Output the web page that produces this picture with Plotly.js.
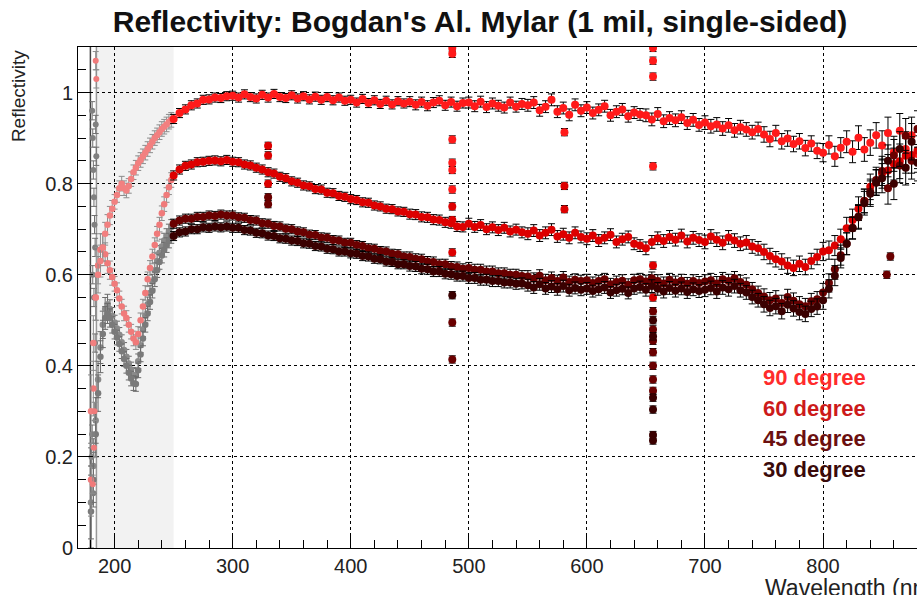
<!DOCTYPE html>
<html><head><meta charset="utf-8">
<script src="https://cdn.plot.ly/plotly-3.0.1.min.js"></script>
<style>html,body{margin:0;padding:0;overflow:hidden;background:#fff}#chart{width:960px;height:595px}</style>
</head><body><div id="chart"></div><script>
// ---- main wavelength grid (nm) ----
const wl = [250,255,260,265,270,275,280,285,290,295,
300,305,310,315,320,325,330,335,340,345,
350,355,360,365,370,375,380,385,390,395,
400,405,410,415,420,425,430,435,440,445,
450,455,460,465,470,475,480,485,490,495,
500,505,510,515,520,525,530,535,540,545,
550,555,560,565,570,575,580,585,590,595,
600,605,610,615,620,625,630,635,640,645,
650,655,660,665,670,675,680,685,690,695,
700,705,710,715,720,725,730,735,740,745,
750,755,760,765,770,775,780,785,790,795,
800,805,810,815,820,825,830,835,840,845,
850,855,860,865,870,875,880,885,890,895];
const r90 = [0.942,0.955,0.963,0.972,0.976,0.984,0.985,0.989,0.988,0.992,
0.993,0.989,0.996,0.990,0.987,0.995,0.989,0.997,0.990,0.988,
0.994,0.987,0.992,0.985,0.991,0.984,0.990,0.983,0.989,0.982,
0.984,0.978,0.986,0.977,0.983,0.975,0.982,0.974,0.981,0.976,
0.980,0.973,0.979,0.971,0.978,0.982,0.972,0.979,0.970,0.977,
0.978,0.970,0.980,0.968,0.976,0.971,0.967,0.978,0.969,0.975,
0.972,0.978,0.961,0.969,0.984,0.958,0.966,0.951,0.973,0.960,
0.967,0.955,0.962,0.970,0.950,0.958,0.963,0.948,0.956,0.952,
0.950,0.941,0.953,0.937,0.944,0.939,0.946,0.933,0.940,0.929,
0.934,0.926,0.930,0.921,0.928,0.917,0.924,0.919,0.913,0.920,
0.908,0.898,0.911,0.893,0.899,0.887,0.893,0.878,0.888,0.872,
0.868,0.885,0.860,0.879,0.892,0.870,0.901,0.875,0.890,0.906,
0.884,0.911,0.869,0.916,0.876,0.906,0.865,0.910,0.881,0.900];
const r60 = [0.818,0.831,0.839,0.842,0.847,0.848,0.850,0.851,0.849,0.852,
0.848,0.847,0.842,0.840,0.835,0.831,0.825,0.822,0.815,0.812,
0.805,0.802,0.796,0.794,0.788,0.787,0.780,0.779,0.773,0.771,
0.766,0.764,0.759,0.758,0.752,0.750,0.745,0.744,0.739,0.738,
0.733,0.732,0.727,0.726,0.721,0.720,0.715,0.713,0.706,0.705,
0.712,0.705,0.709,0.700,0.704,0.698,0.703,0.695,0.699,0.693,
0.690,0.697,0.686,0.692,0.699,0.684,0.689,0.681,0.692,0.683,
0.679,0.686,0.675,0.681,0.688,0.672,0.678,0.683,0.668,0.664,
0.658,0.672,0.680,0.674,0.683,0.677,0.686,0.673,0.681,0.676,
0.672,0.684,0.677,0.670,0.682,0.675,0.668,0.671,0.662,0.658,
0.650,0.641,0.634,0.629,0.620,0.615,0.624,0.617,0.630,0.639,
0.651,0.654,0.664,0.678,0.702,0.720,0.745,0.762,0.793,0.803,
0.822,0.829,0.843,0.849,0.861,0.863,0.873,0.872,0.883,0.875];
const r45 = [0.712,0.719,0.723,0.723,0.727,0.727,0.730,0.729,0.732,0.730,
0.730,0.726,0.725,0.720,0.719,0.713,0.712,0.707,0.706,0.701,
0.700,0.695,0.693,0.688,0.687,0.682,0.681,0.676,0.675,0.670,
0.670,0.665,0.663,0.658,0.657,0.652,0.651,0.646,0.645,0.640,
0.639,0.635,0.634,0.629,0.628,0.623,0.623,0.618,0.617,0.613,
0.615,0.611,0.611,0.607,0.607,0.603,0.603,0.600,0.600,0.597,
0.596,0.591,0.598,0.588,0.593,0.586,0.594,0.584,0.589,0.586,
0.588,0.582,0.586,0.590,0.579,0.584,0.587,0.578,0.588,0.590,
0.585,0.592,0.586,0.581,0.589,0.583,0.587,0.580,0.586,0.582,
0.585,0.588,0.581,0.590,0.586,0.592,0.584,0.578,0.568,0.560,
0.552,0.544,0.548,0.538,0.551,0.543,0.535,0.531,0.542,0.546,
0.561,0.582,0.612,0.643,0.668,0.703,0.728,0.762,0.782,0.808,
0.828,0.790,0.862,0.840,0.905,0.850,0.920,0.870,0.830,0.895];
const r30 = [0.685,0.693,0.695,0.700,0.700,0.704,0.703,0.706,0.704,0.706,
0.703,0.703,0.698,0.697,0.692,0.691,0.686,0.685,0.680,0.679,
0.675,0.674,0.669,0.668,0.663,0.662,0.657,0.656,0.651,0.651,
0.647,0.646,0.641,0.640,0.635,0.634,0.629,0.628,0.623,0.623,
0.619,0.618,0.613,0.612,0.607,0.607,0.602,0.601,0.597,0.597,
0.593,0.593,0.589,0.589,0.586,0.586,0.583,0.583,0.580,0.581,
0.577,0.572,0.579,0.570,0.574,0.568,0.575,0.566,0.571,0.567,
0.570,0.564,0.568,0.572,0.561,0.566,0.569,0.560,0.570,0.573,
0.567,0.575,0.569,0.563,0.571,0.565,0.570,0.562,0.568,0.564,
0.567,0.571,0.563,0.572,0.568,0.575,0.566,0.561,0.551,0.544,
0.535,0.527,0.531,0.520,0.534,0.526,0.518,0.514,0.525,0.530,
0.544,0.569,0.598,0.637,0.668,0.702,0.726,0.757,0.778,0.802,
0.812,0.850,0.800,0.876,0.835,0.892,0.846,0.915,0.858,0.885];
const errs = [0.010,0.010,0.010,0.010,0.010,0.010,0.010,0.010,0.010,0.010,
0.010,0.010,0.010,0.010,0.010,0.010,0.010,0.010,0.010,0.010,
0.010,0.010,0.010,0.010,0.010,0.010,0.010,0.010,0.010,0.010,
0.010,0.010,0.010,0.010,0.010,0.010,0.010,0.010,0.010,0.010,
0.011,0.011,0.011,0.011,0.011,0.011,0.011,0.011,0.011,0.011,
0.012,0.012,0.012,0.012,0.012,0.012,0.012,0.012,0.012,0.012,
0.013,0.013,0.013,0.013,0.013,0.013,0.013,0.013,0.013,0.013,
0.013,0.013,0.013,0.013,0.013,0.013,0.013,0.013,0.013,0.013,
0.014,0.014,0.014,0.014,0.014,0.014,0.014,0.014,0.014,0.014,
0.015,0.015,0.015,0.015,0.015,0.015,0.015,0.015,0.015,0.015,
0.017,0.017,0.017,0.017,0.017,0.017,0.017,0.017,0.017,0.017,
0.020,0.020,0.022,0.022,0.024,0.024,0.026,0.026,0.028,0.028,
0.032,0.035,0.035,0.038,0.038,0.040,0.040,0.042,0.042,0.045];
// ---- spectral-line outliers (D2 lamp lines) ----
const out90Wl  = [486,486,486,486,486,486,656,656,656,656,581];
const out90Val = [1.098,1.085,0.897,0.846,0.830,0.787,1.098,1.070,1.035,0.838,0.913];
const out60Wl  = [330,330,330,486,486,486,656,656,656,581,581];
const out60Val = [0.883,0.862,0.800,0.750,0.720,0.649,0.620,0.585,0.550,0.795,0.744];
const out45Wl  = [330,330,486,486,656,656,656,656,656,656,656,854,857];
const out45Val = [0.770,0.755,0.495,0.414,0.520,0.480,0.455,0.430,0.400,0.370,0.345,0.600,0.640];
const out30Wl  = [486,656,656,656,656,656,656];
const out30Val = [0.555,0.500,0.465,0.330,0.304,0.248,0.236];
// ---- deep-UV region (other lamp) ----
const uvWl = [180,182,184,186,188,190,192,194,196,198,200,202,204,206,208,210,212,214,216,218,220,222,224,226,228,230,232,234,236,238,240,242,244,246,248];
const u90 = [0.30,0.45,0.55,0.60,0.63,0.66,0.69,0.71,0.73,0.745,0.76,0.775,0.79,0.80,0.79,0.785,0.795,0.81,0.825,0.835,0.845,0.852,0.86,0.868,0.876,0.884,0.892,0.90,0.906,0.913,0.92,0.925,0.93,0.936,0.94];
const u60 = [0.15,0.35,0.55,0.62,0.655,0.66,0.645,0.625,0.61,0.595,0.58,0.566,0.548,0.53,0.515,0.505,0.49,0.475,0.46,0.452,0.47,0.50,0.53,0.56,0.59,0.615,0.64,0.665,0.69,0.71,0.735,0.755,0.775,0.792,0.808];
const u45 = [0.10,0.18,0.28,0.37,0.44,0.49,0.525,0.535,0.525,0.51,0.495,0.482,0.468,0.452,0.435,0.42,0.405,0.392,0.38,0.378,0.41,0.445,0.48,0.51,0.535,0.56,0.585,0.61,0.63,0.648,0.662,0.675,0.685,0.695,0.705];
const u30 = [0.08,0.15,0.25,0.34,0.42,0.47,0.505,0.515,0.505,0.49,0.475,0.462,0.448,0.432,0.415,0.40,0.385,0.372,0.362,0.36,0.39,0.425,0.46,0.49,0.515,0.54,0.565,0.59,0.61,0.628,0.642,0.655,0.665,0.675,0.685];
const uvErr = [0.08,0.06,0.05,0.04,0.035,0.03,0.025,0.022,0.02,0.018,0.016,0.016,0.016,0.016,0.016,0.016,0.016,0.016,0.016,0.016,0.016,0.016,0.016,0.016,0.016,0.016,0.016,0.016,0.016,0.016,0.016,0.016,0.016,0.016,0.016];
const uvNoiseWl  = [181.0,181.5,182.0,182.5,183.0,183.5,184.0,184.5,181.5,182.5,183.5,180.5,181.0,182.0];
const uvNoiseVal = [0.96,0.90,0.83,0.77,0.71,0.66,0.93,0.86,0.60,0.55,0.45,0.20,0.25,0.12];
const uvPinkWl  = [184.0,184.5,183.0,182.5,181.5];
const uvPinkVal = [1.07,1.03,0.30,0.22,0.14];
const edgeWl  = [179.5,184.6];
const edgeVal = [0.55,0.55];
const edgeErr = [0.7,0.7];
const labels = ['90 degree','60 degree','45 degree','30 degree'];

const FONT = 'Liberation Sans, Arial, Helvetica, sans-serif';
const traces = [];
// edge lines
traces.push({x:[edgeWl[0]], y:[edgeVal[0]], type:'scatter', mode:'markers', marker:{size:1,color:'#444'},
  error_y:{type:'data', array:[edgeErr[0]], color:'#444', thickness:1.5, width:0}, hoverinfo:'skip'});
traces.push({x:[edgeWl[1]], y:[edgeVal[1]], type:'scatter', mode:'markers', marker:{size:1,color:'#999'},
  error_y:{type:'data', array:[edgeErr[1]], color:'#999', thickness:1.5, width:0}, hoverinfo:'skip'});
// UV gray (45, 30) and noise
[[u45,'#8a8a8a'],[u30,'#7a7a7a']].forEach(([v,c])=>{
  traces.push({x:uvWl, y:v, type:'scatter', mode:'markers', marker:{size:6.5,color:c},
    error_y:{type:'data', array:uvErr, color:'#6a6a6a', thickness:1, width:3}});
});
traces.push({x:uvNoiseWl, y:uvNoiseVal, type:'scatter', mode:'markers', marker:{size:6,color:'#808080'},
  error_y:{type:'data', array:uvNoiseWl.map(()=>0.02), color:'#6f6f6f', thickness:1, width:3}});
// UV pink (60, 90)
[[u60,'#f07a7a'],[u90,'#f28080']].forEach(([v,c])=>{
  traces.push({x:uvWl, y:v, type:'scatter', mode:'markers', marker:{size:6.5,color:c},
    error_y:{type:'data', array:uvErr, color:'#8c8c8c', thickness:1, width:3}});
});
traces.push({x:uvPinkWl, y:uvPinkVal, type:'scatter', mode:'markers', marker:{size:6,color:'#f07a7a'},
  error_y:{type:'data', array:uvPinkWl.map(()=>0.02), color:'#8c8c8c', thickness:1, width:3}});
// main series
const mains = [
  [r90,out90Wl,out90Val,'#ff1a1a'],
  [r60,out60Wl,out60Val,'#dd0000'],
  [r45,out45Wl,out45Val,'#6a0000'],
  [r30,out30Wl,out30Val,'#3a0000']
];
mains.forEach(([v,ow,ov,c])=>{
  traces.push({x:wl.concat(ow), y:v.concat(ov), type:'scatter', mode:'markers',
    marker:{size:8,color:c},
    error_y:{type:'data', array:errs.concat(ow.map(()=>0.008)), color:'#000', thickness:1, width:3.5}});
});

const legCol = ['#ff2b2b','#cc1a1a','#6b1010','#3a0a0a'];
const legY = [0.3735,0.3055,0.2397,0.1717];
const ann = labels.map((t,i)=>({text:t, x:747.5, y:legY[i], xref:'x', yref:'y', xanchor:'left', yanchor:'middle',
  showarrow:false, font:{family:FONT, size:22, color:legCol[i], weight:'bold'}}));
ann.push({text:'Reflectivity', textangle:-90, xref:'paper', yref:'paper', x:0, y:0.902, xanchor:'center', yanchor:'middle',
  xshift:-60, showarrow:false, font:{family:FONT, size:19, color:'#222'}});
ann.push({text:'Wavelength (nm)', xref:'paper', yref:'paper', x:1, y:0, xanchor:'right', yanchor:'top',
  yshift:-25, showarrow:false, font:{family:FONT, size:23, color:'#222'}});

const axisCommon = {showline:true, linecolor:'#000', linewidth:1, mirror:true, ticks:'inside', tickcolor:'#000',
  ticklen:15, showgrid:true, gridcolor:'#000', griddash:'dot', gridwidth:1, zeroline:false,
  tickfont:{family:FONT, size:20, color:'#222'}};
const layout = {
  width:960, height:595, margin:{l:78, r:19, t:47, b:47},
  paper_bgcolor:'#fff', plot_bgcolor:'#fff', showlegend:false,
  title:{text:"Reflectivity: Bogdan's Al. Mylar (1 mil, single-sided)", x:0.5, xanchor:'center', xref:'container',
    y:1-21/595, yanchor:'middle', font:{family:FONT, size:30, color:'#111', weight:'bold'}},
  xaxis:Object.assign({}, axisCommon, {range:[169,899.9], tick0:0, dtick:100,
    minor:{ticks:'inside', ticklen:8, tick0:0, dtick:20, tickcolor:'#000', showgrid:false}}),
  yaxis:Object.assign({}, axisCommon, {range:[0,1.1], tick0:0, dtick:0.2,
    minor:{ticks:'inside', ticklen:8, tick0:0, dtick:0.05, tickcolor:'#000', showgrid:false}}),
  shapes:[{type:'rect', xref:'x', yref:'paper', x0:184.6, x1:250, y0:0, y1:1, fillcolor:'#f2f2f2',
    line:{width:0}, layer:'below'}],
  annotations:ann
};
Plotly.newPlot('chart', traces, layout, {staticPlot:true, displayModeBar:false});
</script></body></html>
